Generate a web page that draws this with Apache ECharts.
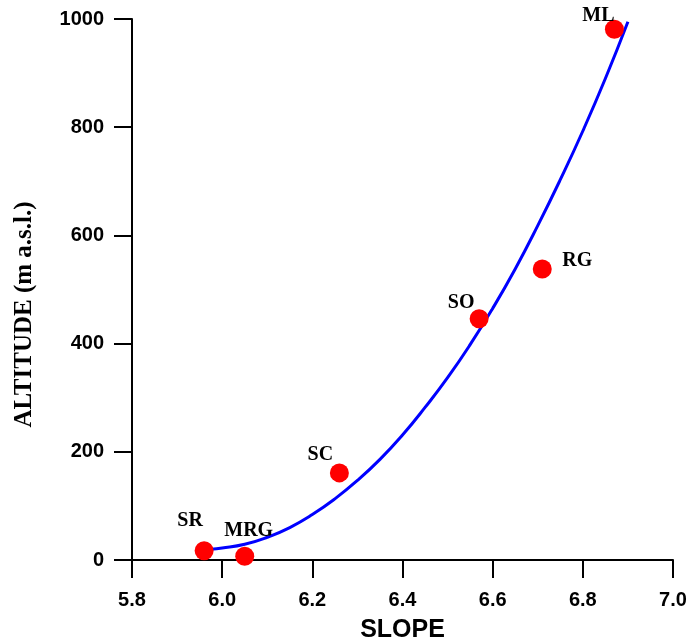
<!DOCTYPE html>
<html>
<head>
<meta charset="utf-8">
<script src="https://cdn.jsdelivr.net/npm/echarts@6/dist/echarts.min.js"></script>
<style>
  html, body { margin: 0; padding: 0; background: #fff; }
  #chart { width: 687px; height: 642px; }
</style>
</head>
<body>
<div id="chart"></div>
<script>
// sites
var siteNames = ['SR', 'MRG', 'SC', 'SO', 'RG', 'ML'];
var siteSlope = [5.96, 6.05, 6.26, 6.57, 6.71, 6.87];
var siteAltitude = [17, 7, 161, 446, 538, 981];

// fitted curve
var fitSlope = [5.975, 6.0, 6.05, 6.1, 6.15, 6.2, 6.25, 6.3, 6.35, 6.4, 6.45, 6.5, 6.55, 6.6, 6.65, 6.7, 6.75, 6.8, 6.85, 6.9];
var fitAltitude = [20, 22, 29, 42, 60, 84, 113, 147, 186, 231, 282, 337, 398, 465, 538, 618, 703, 793, 890, 995];

var xTicks = [5.8, 6.0, 6.2, 6.4, 6.6, 6.8, 7.0];
var yTicks = [0, 200, 400, 600, 800, 1000];

// where each site name sits relative to its dot
var labelOffsets = {
    SR: [-14, -30],
    MRG: [4, -25],
    SC: [-19, -18],
    SO: [-18, -16],
    RG: [35, -8],
    ML: [-16, -13]
};

var chart = echarts.init(document.getElementById('chart'));

var pts = siteNames.map(function (n, i) {
    return {
        name: n,
        value: [siteSlope[i], siteAltitude[i]],
        label: { offset: labelOffsets[n] }
    };
});
var fit = fitSlope.map(function (x, i) { return [x, fitAltitude[i]]; });

var axisCommon = {
    axisLine: { show: true, onZero: false, lineStyle: { color: '#000', width: 2 } },
    axisTick: { show: true, inside: false, length: 18, lineStyle: { color: '#000', width: 2 } },
    splitLine: { show: false },
    axisLabel: {
        color: '#000', fontFamily: 'Liberation Sans', fontWeight: 'bold', fontSize: 20
    }
};

chart.setOption({
    animation: false,
    backgroundColor: '#fff',
    grid: { left: 132, right: 14, top: 19, bottom: 82, containLabel: false, outerBoundsMode: 'none' },
    xAxis: echarts.util.merge({
        type: 'value', min: xTicks[0], max: xTicks[xTicks.length - 1], interval: 0.2,
        name: 'SLOPE', nameLocation: 'middle', nameGap: 58,
        nameTextStyle: { color: '#000', fontFamily: 'Liberation Sans', fontWeight: 'bold', fontSize: 25 },
        axisLabel: { margin: 30, formatter: function (v) { return v.toFixed(1); } }
    }, axisCommon),
    yAxis: echarts.util.merge({
        type: 'value', min: yTicks[0], max: yTicks[yTicks.length - 1], interval: 200,
        name: 'ALTITUDE (m a.s.l.)', nameLocation: 'middle', nameGap: 95,
        nameTextStyle: {
            color: '#000', fontFamily: 'Liberation Serif', fontWeight: 'bold', fontSize: 25,
            padding: [0, 50, 0, 0]
        },
        axisLabel: { margin: 28, formatter: function (v) { return String(v); } }
    }, axisCommon),
    series: [
        {
            type: 'line',
            data: fit,
            smooth: true,
            showSymbol: false,
            lineStyle: { color: '#0000ff', width: 3 },
            z: 2
        },
        {
            type: 'scatter',
            data: pts,
            symbolSize: 19,
            itemStyle: { color: '#ff0000', opacity: 1 },
            label: {
                show: true,
                position: 'inside',
                formatter: '{b}',
                color: '#000',
                fontFamily: 'Liberation Serif',
                fontWeight: 'bold',
                fontSize: 20
            },
            z: 3
        }
    ]
});
</script>
</body>
</html>
